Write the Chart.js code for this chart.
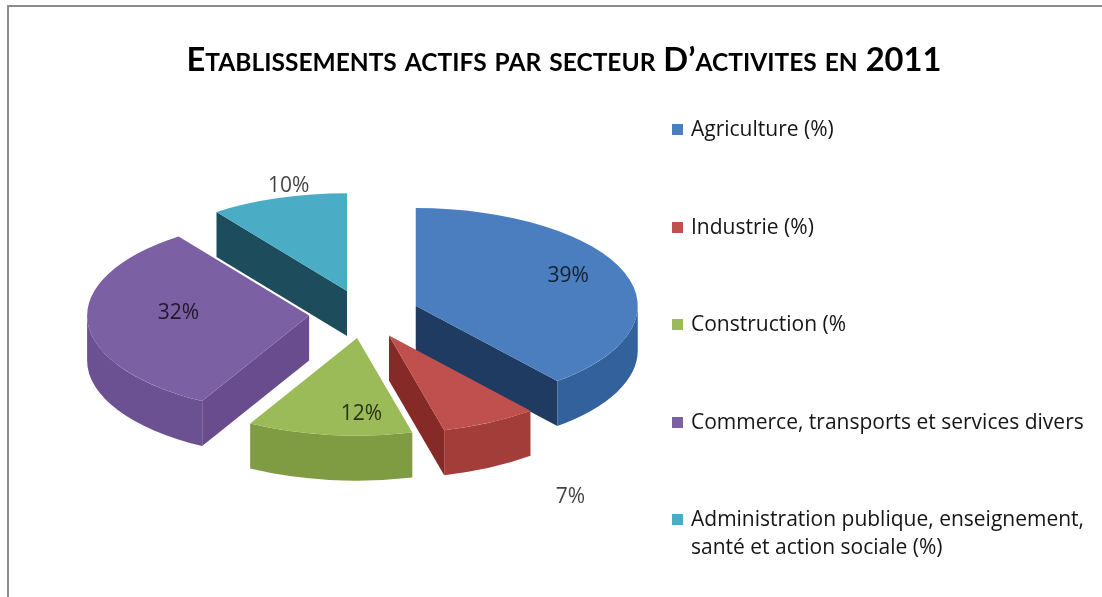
<!DOCTYPE html>
<html>
<head>
<meta charset="utf-8">
<script src="https://cdn.jsdelivr.net/npm/chart.js@4.4.1/dist/chart.umd.min.js"></script>
<style>
    html, body { margin: 0; padding: 0; background: #fff; }
    #frame { position: relative; width: 1102px; height: 597px; overflow: hidden; background: #fff; }
    #border { position: absolute; left: 7px; top: 5px; width: 1200px; height: 700px;
              border-top: 2px solid #8c8c8c; border-left: 2px solid #8c8c8c; }
    #pieChart { position: absolute; left: 0; top: 0; }
    #chartTitle { position: absolute; left: 564px; top: 43px; white-space: nowrap;
                  font-family: Lato, "Open Sans", sans-serif; font-weight: bold;
                  font-size: 32px; line-height: 32px; color: #000; transform-origin: center center; }
    #chartTitle .sc { font-size: 24px; }
    .legend-item { position: absolute; left: 672px; width: 428px; font-family: "Open Sans", sans-serif;
                   font-size: 21px; line-height: 28px; color: #151515; }
    .swatch { position: absolute; left: 0; top: 10px; width: 11px; height: 11px; }
    .legend-text { display: block; margin-left: 19px; }
</style>
</head>
<body>
<div id="frame">
    <div id="border"></div>
    <canvas id="pieChart" width="1102" height="597"></canvas>
    <div id="chartTitle"></div>
    <div id="legend"></div>
</div>
<script>
const titleText = "Etablissements actifs par secteur D\u2019activites en 2011";
const categories = [
    "Agriculture (%)",
    "Industrie (%)",
    "Construction (%",
    "Commerce, transports et services divers",
    "Administration publique, enseignement, santé et action sociale (%)"
];
const shares = [39, 7, 12, 32, 10];
const topColors = ["#4a7ebe", "#c0504d", "#9bbb59", "#7c60a4", "#4bacc6"];
const rimColors = ["#33619c", "#a23d3a", "#7f9c42", "#6c5192", "#3a93ab"];
const cutColors = ["#203b62", "#862a27", "#6f8a36", "#684c8d", "#1d4d5c"];

// fake 3D look
const tilt = 0.44;
const depth = 45;
const explode = 55;
const labelReach = [0.73, 1.8, 0.85, 0.59, 0.85];
const labelShift = [[0, -6], [0, 5], [28, -6], [0, -6], [0, -26]];

const pie3d = {
    id: "pie3d",
    beforeDatasetsDraw(chart) {
        const ctx = chart.ctx;
        const arcs = chart.getDatasetMeta(0).data;
        const cx = arcs[0].x, cy = arcs[0].y;
        const R = arcs[0].outerRadius, Ry = R * tilt;

        const slices = arcs.map((arc, i) => {
            const mid = (arc.startAngle + arc.endAngle) / 2;
            return { arc, i, mid, tx: cx + Math.cos(mid) * explode, ty: cy + Math.sin(mid) * explode * tilt };
        });

        function face(s, a) {
            const px = s.tx + R * Math.cos(a), py = s.ty + Ry * Math.sin(a);
            ctx.beginPath();
            ctx.moveTo(s.tx, s.ty);
            ctx.lineTo(px, py);
            ctx.lineTo(px, py + depth);
            ctx.lineTo(s.tx, s.ty + depth);
            ctx.closePath();
            ctx.fill();
        }

        // back to front
        slices.slice().sort((a, b) => a.ty - b.ty).forEach(s => {
            const a0 = s.arc.startAngle, a1 = s.arc.endAngle;
            ctx.save();
            ctx.fillStyle = cutColors[s.i];
            if (Math.cos(a0) < -0.001) face(s, a0);
            if (Math.cos(a1) > 0.001) face(s, a1);

            const r0 = Math.max(a0, 0), r1 = Math.min(a1, Math.PI);
            if (r1 > r0) {
                ctx.beginPath();
                ctx.ellipse(s.tx, s.ty, R, Ry, 0, r0, r1);
                ctx.ellipse(s.tx, s.ty + depth, R, Ry, 0, r1, r0, true);
                ctx.closePath();
                ctx.fillStyle = rimColors[s.i];
                ctx.fill();
            }
            ctx.restore();

            ctx.save();
            ctx.translate(s.tx, s.ty);
            ctx.scale(1, tilt);
            ctx.translate(-cx, -cy);
            s.arc.draw(ctx);
            ctx.restore();
        });

        ctx.save();
        ctx.font = '21px "Open Sans", sans-serif';
        ctx.fillStyle = "rgba(0, 0, 0, 0.75)";
        ctx.textAlign = "center";
        ctx.textBaseline = "middle";
        slices.forEach(s => {
            const f = labelReach[s.i];
            const x = s.tx + f * R * Math.cos(s.mid) + labelShift[s.i][0];
            const y = s.ty + f * Ry * Math.sin(s.mid) + labelShift[s.i][1];
            ctx.fillText(shares[s.i] + "%", x, y);
        });
        ctx.restore();
        return false;
    }
};

new Chart(document.getElementById("pieChart"), {
    type: "pie",
    data: {
        labels: categories,
        datasets: [{
            data: shares,
            backgroundColor: topColors,
            borderWidth: 0,
            offset: 0,
            hoverOffset: 0
        }]
    },
    options: {
        responsive: false,
        animation: false,
        events: [],
        layout: { padding: { left: 142, top: 92, right: 516, bottom: 61 } },
        plugins: {
            legend: { display: false },
            tooltip: { enabled: false },
            title: { display: false }
        }
    },
    plugins: [pie3d]
});

// title in small capitals, squeezed to the width seen in the picture
const titleEl = document.getElementById("chartTitle");
let titleHtml = "";
let run = "";
for (const ch of titleText) {
    if (ch >= "a" && ch <= "z") {
        run += ch.toUpperCase();
    } else {
        if (run) { titleHtml += `<span class="sc">${run}</span>`; run = ""; }
        titleHtml += ch === " " ? " " : ch;
    }
}
if (run) titleHtml += `<span class="sc">${run}</span>`;
titleEl.innerHTML = titleHtml;
const titleWidth = titleEl.getBoundingClientRect().width;
titleEl.style.transform = `translateX(-50%) scaleX(${755 / titleWidth})`;

const legendBox = document.getElementById("legend");
categories.forEach((name, i) => {
    const item = document.createElement("div");
    item.className = "legend-item";
    item.style.top = (114 + i * 97.5) + "px";
    item.innerHTML = `<span class="swatch" style="background:${topColors[i]}"></span><span class="legend-text">${name}</span>`;
    legendBox.appendChild(item);
});
</script>
</body>
</html>
